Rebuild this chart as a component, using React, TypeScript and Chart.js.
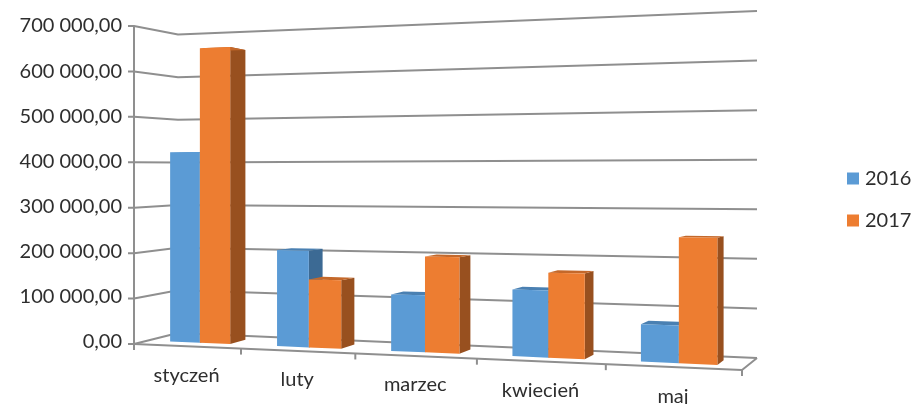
import React, { useEffect, useRef } from "react";
import { Chart, registerables } from "chart.js";

Chart.register(...registerables);

const categories = ["styczeń", "luty", "marzec", "kwiecień", "maj"];
const series2016 = [422000, 208000, 119000, 136000, 74000];
const series2017 = [652000, 146000, 200000, 172000, 247000];
const seriesNames = ["2016", "2017"];
const yTicksMax = 700000;
const yTicksStep = 100000;

const BLUE = "#5B9BD5";
const ORANGE = "#ED7D31";
const FACE: Record<string, { side: string; top: string }> = {
  [BLUE]: { side: "#3C6A94", top: "#4A80B2" },
  [ORANGE]: { side: "#98501F", top: "#C4682A" },
};
const GRID = "#8F8F8F";
const TEXT = "#2E2E2E";
const FONT = "Lato";

const DEPTH_FRONT = 0.32;
const DEPTH_BACK = 0.7;

const lerp = (a: number, b: number, t: number) => a + (b - a) * t;

// Projects (u along the category axis, v up the value axis, d into the depth) to the oblique 3D view.
function project(u: number, v: number, d: number): [number, number] {
  const w = 0.85 * u + 0.15 * u * u;
  const x = lerp(134 + 608 * w, 178 + 579 * w, d);
  const floor = lerp(344 + 26 * w, 333 + 25 * w, d);
  const h = lerp(318 + 52 * w, 298.5 + 48.5 * w, d);
  return [x, floor - v * h];
}

function poly(ctx: CanvasRenderingContext2D, pts: [number, number][], fill?: string) {
  ctx.beginPath();
  pts.forEach((p, i) => (i ? ctx.lineTo(p[0], p[1]) : ctx.moveTo(p[0], p[1])));
  if (fill) {
    ctx.closePath();
    ctx.fillStyle = fill;
    ctx.fill();
  } else {
    ctx.stroke();
  }
}

const perspectivePlugin = {
  id: "perspective",
  beforeDraw(chart: any) {
    const xs = chart.scales.x;
    const items = xs.getLabelItems();
    items.forEach((it: any, i: number) => {
      const u = (xs.getPixelForTick(i) - xs.left) / xs.width;
      const p = project(u, 0, 0);
      it.options.translation = [p[0], p[1] + 29 - it.textOffset];
      it.options.textBaseline = "middle";
    });
    const lg = chart.legend;
    if (lg) {
      lg.top = 0;
      lg.bottom = 399;
    }
  },
  beforeDatasetsDraw(chart: any) {
    const { ctx, scales } = chart;
    const xs = scales.x;
    const ys = scales.y;
    const toU = (px: number) => (px - xs.left) / xs.width;
    const toV = (py: number) => (ys.bottom - py) / (ys.bottom - ys.top);

    ctx.save();
    ctx.strokeStyle = GRID;
    ctx.lineWidth = 2;
    ctx.lineJoin = "round";
    ys.ticks.forEach((t: any) => {
      const v = toV(ys.getPixelForValue(t.value));
      const a = project(0, v, 0);
      poly(ctx, [[a[0] - 6, a[1]], a, project(0, v, 1), project(1, v, 1)]);
    });
    poly(ctx, [project(0, 1, 0), [134, 349]]);
    poly(ctx, [project(0, 0, 0), project(1, 0, 0), project(1, 0, 1)]);
    const n = categories.length;
    for (let i = 0; i <= n; i++) {
      const px = i < n ? xs.getPixelForTick(i) - (xs.getPixelForTick(1) - xs.getPixelForTick(0)) / 2 : xs.right;
      const p = project(toU(px), 0, 0);
      poly(ctx, [p, [p[0], p[1] + 6]]);
    }

    const metas = [chart.getDatasetMeta(0), chart.getDatasetMeta(1)];
    categories.forEach((_, c) => {
      metas.forEach((m: any, s: number) => {
        const el = m.data[c];
        const color = chart.data.datasets[s].backgroundColor as string;
        const u0 = toU(el.x - el.width / 2);
        const u1 = toU(el.x + el.width / 2);
        const v = toV(el.y);
        const f = (u: number, vv: number) => project(u, vv, DEPTH_FRONT);
        const b = (u: number, vv: number) => project(u, vv, DEPTH_BACK);
        poly(ctx, [f(u1, 0), b(u1, 0), b(u1, v), f(u1, v)], FACE[color].side);
        poly(ctx, [f(u0, v), b(u0, v), b(u1, v), f(u1, v)], FACE[color].top);
        poly(ctx, [f(u0, 0), f(u1, 0), f(u1, v), f(u0, v)], color);
      });
    });
    ctx.restore();
    return false;
  },
};

export default function App() {
  const ref = useRef<HTMLCanvasElement>(null);
  useEffect(() => {
    document.body.style.margin = "0";
    const chart = new Chart(ref.current as HTMLCanvasElement, {
      type: "bar",
      data: {
        labels: categories,
        datasets: [
          { label: seriesNames[0], data: series2016, backgroundColor: BLUE, borderColor: BLUE, borderWidth: 8 },
          { label: seriesNames[1], data: series2017, backgroundColor: ORANGE, borderColor: ORANGE, borderWidth: 8 },
        ],
      },
      options: {
        responsive: false,
        animation: false,
        layout: { autoPadding: false, padding: { top: 26, left: 0, right: 0, bottom: 0 } },
        datasets: { bar: { categoryPercentage: 0.57, barPercentage: 1 } },
        plugins: {
          tooltip: { enabled: false },
          legend: {
            position: "right",
            maxWidth: 83,
            labels: {
              boxWidth: 4,
              boxHeight: 4,
              padding: 22,
              color: TEXT,
              font: { family: FONT, size: 20 },
            },
          },
        },
        scales: {
          x: {
            grid: { display: false },
            border: { display: false },
            ticks: { color: TEXT, font: { family: FONT, size: 20 }, maxRotation: 0, autoSkip: false },
            afterFit: (s: any) => {
              s.height = 62;
            },
          },
          y: {
            min: 0,
            max: yTicksMax,
            grid: { display: false, drawTicks: false },
            border: { display: false },
            ticks: {
              stepSize: yTicksStep,
              padding: 12,
              color: TEXT,
              font: { family: FONT, size: 20 },
              callback: (val: any) => {
                const thousands = Math.round(Number(val) / 1000);
                return thousands === 0 ? "0,00" : `${thousands} 000,00`;
              },
            },
            afterFit: (s: any) => {
              s.width = 134;
            },
          },
        },
      },
      plugins: [perspectivePlugin],
    } as any);
    return () => chart.destroy();
  }, []);
  return <canvas ref={ref} width={912} height={404} style={{ display: "block" }} />;
}
